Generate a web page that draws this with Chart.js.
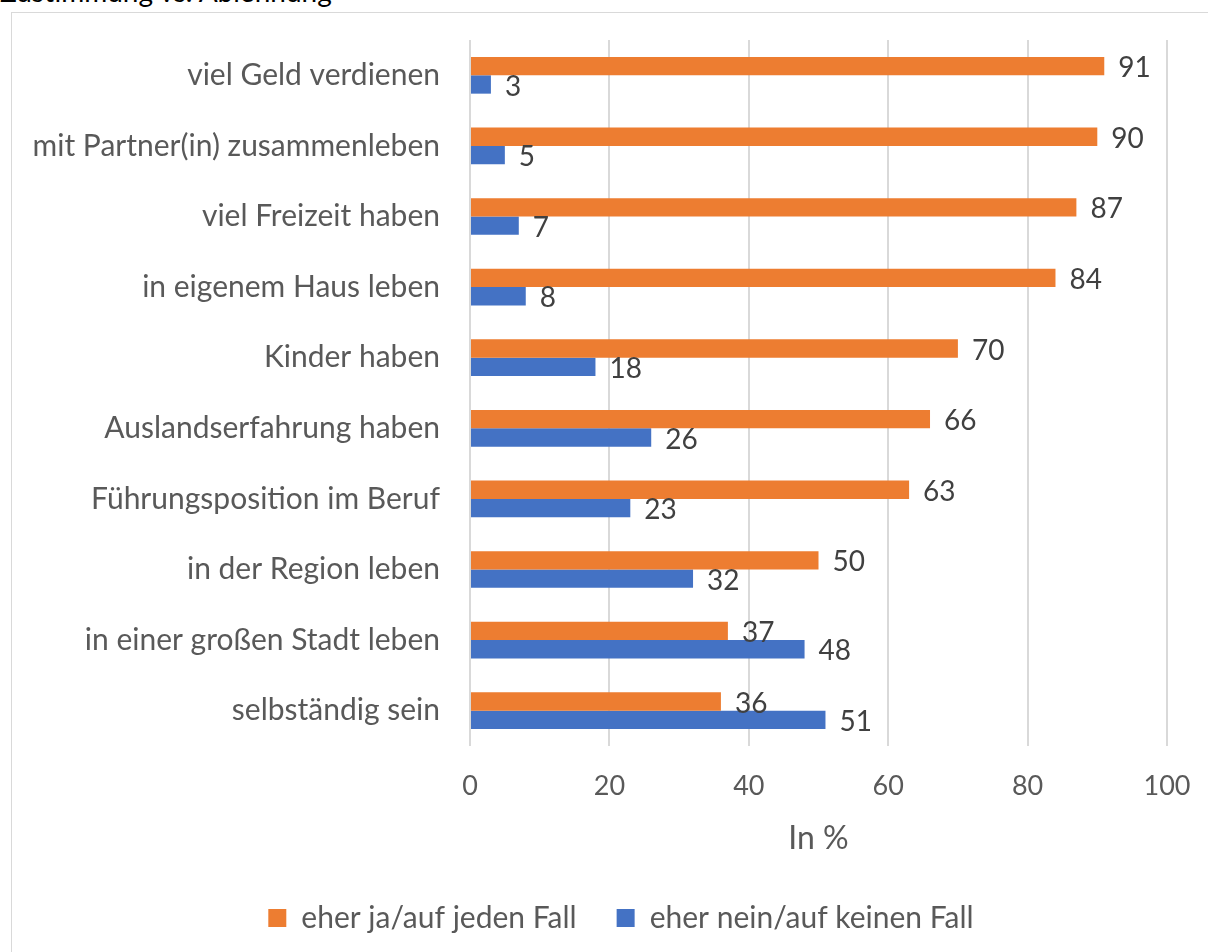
<!DOCTYPE html>
<html lang="de">
<head>
<meta charset="utf-8">
<script src="https://cdn.jsdelivr.net/npm/chart.js@4"></script>
<style>
  html, body { margin: 0; padding: 0; background: #fff; overflow: hidden; }
  body { width: 1208px; height: 952px; position: relative; font-family: Lato, "Liberation Sans", sans-serif; }
  #title { position: absolute; left: 0; top: -23px; font-size: 28px; line-height: 28px; color: #000; white-space: nowrap; }
  #frame { position: absolute; left: 11px; top: 12px; width: 1218px; height: 969px; border: 1px solid #d9d9d9; }
  #frame canvas { display: block; }
</style>
</head>
<body>
<div id="title">Zustimmung vs. Ablehnung</div>
<div id="frame"><canvas id="chart" width="1218" height="969"></canvas></div>
<script>
"use strict";

const categories = [
  "viel Geld verdienen", "mit Partner(in) zusammenleben", "viel Freizeit haben",
  "in eigenem Haus leben", "Kinder haben", "Auslandserfahrung haben",
  "Führungsposition im Beruf", "in der Region leben", "in einer großen Stadt leben",
  "selbständig sein",
];
const yesValues = [91, 90, 87, 84, 70, 66, 63, 50, 37, 36];
const noValues = [3, 5, 7, 8, 18, 26, 23, 32, 48, 51];
const seriesNames = ["eher ja/auf jeden Fall", "eher nein/auf keinen Fall"];
const xTicks = [0, 20, 40, 60, 80, 100];

const COLORS = { yes: "#ed7d31", no: "#4472c4", grid: "#d9d9d9", tick: "#595959", label: "#404040" };
const FONT = "Lato, 'Liberation Sans', sans-serif";

// value labels right of each bar end
const barLabels = {
  id: "barLabels",
  afterDatasetsDraw(chart) {
    const ctx = chart.ctx;
    ctx.save();
    ctx.font = "28px " + FONT;
    ctx.fillStyle = COLORS.label;
    ctx.textAlign = "left";
    ctx.textBaseline = "middle";
    chart.data.datasets.forEach((ds, i) => {
      chart.getDatasetMeta(i).data.forEach((bar, j) => {
        ctx.fillText(String(ds.data[j]), bar.x + 14, bar.y + 2);
      });
    });
    ctx.restore();
  },
};

new Chart(document.getElementById("chart"), {
  type: "bar",
  data: {
    labels: categories,
    datasets: [
      { label: seriesNames[0], data: yesValues, backgroundColor: COLORS.yes },
      { label: seriesNames[1], data: noValues, backgroundColor: COLORS.no },
    ],
  },
  options: {
    indexAxis: "y",
    responsive: false,
    animation: false,
    events: [],
    categoryPercentage: 0.52,
    barPercentage: 1,
    layout: { padding: { top: 27, right: 0, left: 0, bottom: 39 } },
    plugins: {
      tooltip: { enabled: false },
      legend: {
        position: "bottom",
        labels: {
          color: COLORS.tick, font: { family: FONT, size: 30 },
          boxWidth: 18, boxHeight: 18, padding: 40,
          generateLabels: (chart) => chart.data.datasets.map((ds, i) => ({
            text: ds.label, fillStyle: ds.backgroundColor, strokeStyle: ds.backgroundColor,
            lineWidth: 0, datasetIndex: i, fontColor: COLORS.tick,
          })),
        },
      },
    },
    scales: {
      x: {
        min: 0, max: 100,
        afterBuildTicks: (s) => { s.ticks = xTicks.map((v) => ({ value: v })); },
        // plot ends short of the frame's right edge; legend stays centred on the frame
        afterFit: (s) => { s.height = 117; s.paddingLeft = 0; s.paddingRight = 63; },
        grid: { color: COLORS.grid, lineWidth: 2, drawTicks: false },
        border: { display: false },
        ticks: { color: COLORS.tick, font: { family: FONT, size: 27 }, padding: 24 },
        title: { display: true, text: "In %", color: COLORS.tick, font: { family: FONT, size: 32 }, padding: { top: 0, bottom: 5 } },
      },
      y: {
        afterFit: (s) => { s.width = 458; s.paddingTop = 0; s.paddingBottom = 0; },
        grid: { display: false, drawTicks: false },
        border: { display: false },
        ticks: { color: COLORS.tick, font: { family: FONT, size: 30 }, padding: 30 },
      },
    },
  },
  plugins: [barLabels],
});
</script>
</body>
</html>
